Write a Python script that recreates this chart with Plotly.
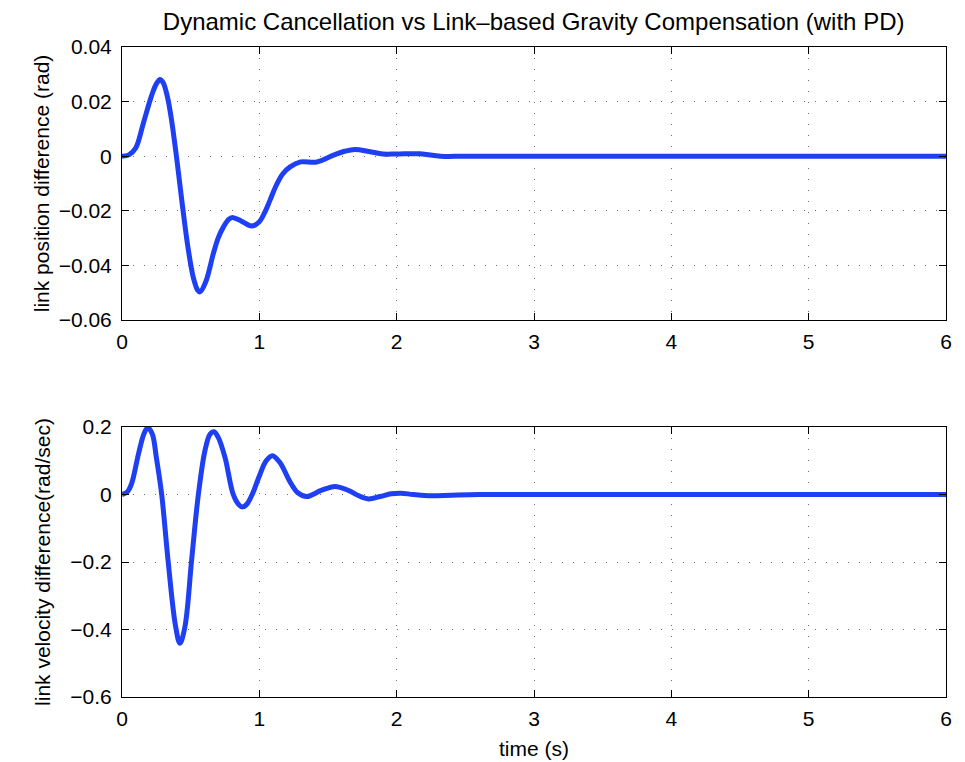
import plotly.graph_objects as go
from plotly.subplots import make_subplots

# time samples and link position difference (rad)
t_pos = [0.0, 0.05, 0.10, 0.155, 0.216, 0.25, 0.277, 0.30, 0.33, 0.36, 0.40, 0.44, 0.48,
         0.52, 0.55, 0.568, 0.61, 0.665, 0.70, 0.74, 0.78, 0.81, 0.87, 0.944, 1.00, 1.04,
         1.078, 1.12, 1.17, 1.224, 1.30, 1.418, 1.54, 1.62, 1.697, 1.80, 1.90, 2.00, 2.17,
         2.32, 2.50, 3.0, 4.0, 5.0, 6.0]
pos_diff = [0.0, 0.0005, 0.003, 0.012, 0.0223, 0.0265, 0.0281, 0.0269, 0.0219, 0.0135,
            -0.0015, -0.0181, -0.0333, -0.0446, -0.0490, -0.0497, -0.046, -0.0357, -0.030,
            -0.0258, -0.023, -0.0225, -0.0238, -0.0256, -0.0240, -0.0205, -0.0161, -0.0110,
            -0.0065, -0.0039, -0.0021, -0.0021, 0.0004, 0.0018, 0.0025, 0.0017, 0.0008,
            0.0008, 0.0009, 0.0, 0.0, 0.0, 0.0, 0.0, 0.0]

# time samples and link velocity difference (rad/sec)
t_vel = [0.0, 0.04, 0.07, 0.12, 0.16, 0.187, 0.22, 0.25, 0.289, 0.335, 0.39, 0.422,
         0.459, 0.507, 0.556, 0.604, 0.64, 0.669, 0.70, 0.75, 0.81, 0.85, 0.876, 0.91,
         0.95, 1.00, 1.05, 1.095, 1.15, 1.22, 1.28, 1.345, 1.45, 1.551, 1.65, 1.72, 1.794,
         1.88, 1.96, 2.03, 2.12, 2.25, 2.40, 2.60, 3.0, 4.0, 5.0, 6.0]
vel_diff = [0.0, 0.008, 0.032, 0.12, 0.18, 0.198, 0.18, 0.11, 0.0, -0.194, -0.39, -0.441,
            -0.39, -0.194, 0.0, 0.13, 0.178, 0.186, 0.17, 0.11, 0.0, -0.03, -0.037, -0.028,
            0.002, 0.055, 0.100, 0.115, 0.095, 0.04, 0.005, -0.006, 0.012, 0.024, 0.012,
            -0.003, -0.013, -0.006, 0.002, 0.004, 0.0, -0.004, -0.002, 0.0, 0.0, 0.0, 0.0, 0.0]

x_ticks = [0, 1, 2, 3, 4, 5, 6]
pos_ticks = [-0.06, -0.04, -0.02, 0, 0.02, 0.04]
pos_labels = ["\u22120.06", "\u22120.04", "\u22120.02", "0", "0.02", "0.04"]
vel_ticks = [-0.6, -0.4, -0.2, 0, 0.2]
vel_labels = ["\u22120.6", "\u22120.4", "\u22120.2", "0", "0.2"]

line_color = "#1f3ff2"
font_family = "Liberation Sans, Arial, Helvetica, sans-serif"
label_font = dict(size=21, color="black", family=font_family)

fig = make_subplots(rows=2, cols=1, vertical_spacing=0.165)

fig.add_trace(go.Scatter(x=t_pos, y=pos_diff, mode="lines",
                         line=dict(color=line_color, width=5, shape="spline", smoothing=1.0),
                         showlegend=False), row=1, col=1)
fig.add_trace(go.Scatter(x=t_vel, y=vel_diff, mode="lines",
                         line=dict(color=line_color, width=5, shape="spline", smoothing=1.0),
                         showlegend=False), row=2, col=1)

axis_common = dict(
    showline=True, linecolor="black", linewidth=1, mirror="ticks",
    ticks="inside", ticklen=7, tickcolor="black", tickwidth=1,
    showgrid=True, gridcolor="#6e6e6e", griddash="1px,10px", gridwidth=1,
    zeroline=False, tickfont=label_font, automargin=False,
)

fig.update_xaxes(**axis_common, range=[0, 6], tickvals=x_ticks, ticklabelstandoff=3)
fig.update_xaxes(title=dict(text="time (s)", font=label_font, standoff=12), row=2, col=1)

fig.update_yaxes(**axis_common, ticklabelstandoff=5)
fig.update_yaxes(range=[-0.06, 0.04], tickvals=pos_ticks, ticktext=pos_labels,
                 title=dict(text="link position difference (rad)", font=label_font, standoff=3),
                 row=1, col=1)
fig.update_yaxes(range=[-0.6, 0.2], tickvals=vel_ticks, ticktext=vel_labels,
                 title=dict(text="link velocity difference(rad/sec)", font=label_font, standoff=13),
                 row=2, col=1)

fig.update_layout(
    width=965, height=762,
    margin=dict(l=122, r=19, t=47, b=65),
    paper_bgcolor="white", plot_bgcolor="white",
    title=dict(text="Dynamic Cancellation vs Link\u2013based Gravity Compensation (with PD)",
               x=0.553, xanchor="center", y=0.971, yanchor="middle",
               font=dict(size=24, color="black", family=font_family)),
)
fig.layout.yaxis.domain = [0.58, 1.0]
fig.layout.yaxis2.domain = [0.0, 0.4154]

fig.write_html("out.html")
